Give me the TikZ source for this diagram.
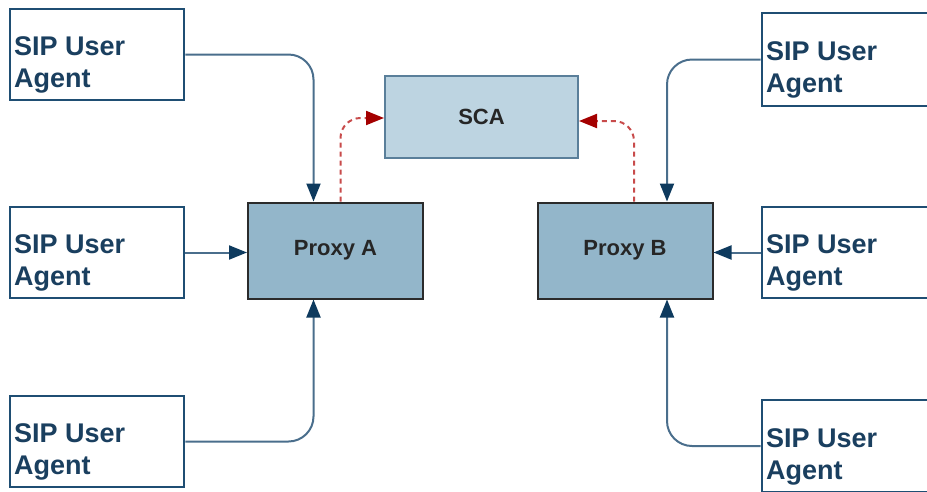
\documentclass[tikz,border=0pt]{standalone}
\usepackage{fontspec}
\setmainfont{Liberation Sans}
\usetikzlibrary{arrows.meta,calc}
\definecolor{uaborder}{HTML}{1F4E73}
\definecolor{uatextc}{HTML}{1A3F5F}
\definecolor{connline}{HTML}{4A6E8C}
\definecolor{headdark}{HTML}{0E3A5E}
\definecolor{proxyfill}{HTML}{93B6CA}
\definecolor{proxyborder}{HTML}{2B2B2B}
\definecolor{scafill}{HTML}{BDD4E1}
\definecolor{scaborder}{HTML}{5A7F9A}
\definecolor{reddash}{HTML}{C84B4B}
\definecolor{redhead}{HTML}{A40000}
\tikzset{
  uabox/.style={draw=uaborder, line width=2.6pt, fill=white, minimum width=174pt, minimum height=91pt, inner sep=0pt},
  uatext/.style={font=\fontsize{27}{32}\selectfont\bfseries, text=uatextc, align=left, inner sep=0pt, anchor=west},
  proxybox/.style={draw=proxyborder, line width=2pt, fill=proxyfill, minimum width=175pt, minimum height=96pt, font=\fontsize{22}{26}\selectfont\bfseries, text=black!85},
  scabox/.style={draw=scaborder, line width=2pt, fill=scafill, minimum width=193pt, minimum height=82pt, font=\fontsize{22}{26}\selectfont\bfseries, text=black!85},
  conn/.style={draw=connline, line width=2pt, rounded corners=25pt, -{Triangle[length=18pt,width=14pt,color=headdark,fill=headdark]}},
  redconn/.style={draw=reddash, line width=2pt, dash pattern=on 5pt off 4pt, rounded corners=20pt, -{Triangle[length=18pt,width=14pt,color=redhead,fill=redhead]}}
}
\begin{document}
\begin{tikzpicture}[x=1pt,y=-1pt]
\useasboundingbox (0,0) rectangle (927,491);
\clip (0,0) rectangle (927,491);
% left user agents
\node[uabox] (ua1) at (97,54.5) {};
\node[uabox] (ua2) at (97,252.5) {};
\node[uabox] (ua3) at (97,441.5) {};
% right user agents
\node[uabox, minimum width=180pt, minimum height=93pt] (ub1) at (852,59.5) {};
\node[uabox, minimum width=180pt] (ub2) at (852,252.5) {};
\node[uabox, minimum width=180pt, minimum height=92pt] (ub3) at (852,446) {};
\node[uatext] (t1) at (14,65) {SIP User\\Agent};
\node[uatext] (t2) at (14,263) {SIP User\\Agent};
\node[uatext] (t3) at (14,452) {SIP User\\Agent};
\node[uatext] (t4) at (766,70) {SIP User\\Agent};
\node[uatext] (t5) at (766,263) {SIP User\\Agent};
\node[uatext] (t6) at (766,456.5) {SIP User\\Agent};
% proxies and SCA
\node[proxybox] (pa) at (335.5,250.5) {Proxy A};
\node[proxybox] (pb) at (625,250.5) {Proxy B};
\node[scabox] (sca) at (481.5,117) {SCA};
% connectors
\draw[conn] (ua1.east) -| ([xshift=-22pt]pa.north);
\draw[conn] (ua2.east) -- (ua2.east -| pa.west);
\draw[conn] (ua3.east) -| ([xshift=-22pt]pa.south);
\draw[conn] (ub1.west) -| ([xshift=42pt]pb.north);
\draw[conn] (ub2.west) -- (ub2.west -| pb.east);
\draw[conn] (ub3.west) -| ([xshift=42pt]pb.south);
\draw[redconn] ([xshift=5pt]pa.north) |- ($(sca.west)+(0,1)$);
\draw[redconn] ([xshift=9pt]pb.north) |- ($(sca.east)+(0,4)$);
\end{tikzpicture}
\end{document}
